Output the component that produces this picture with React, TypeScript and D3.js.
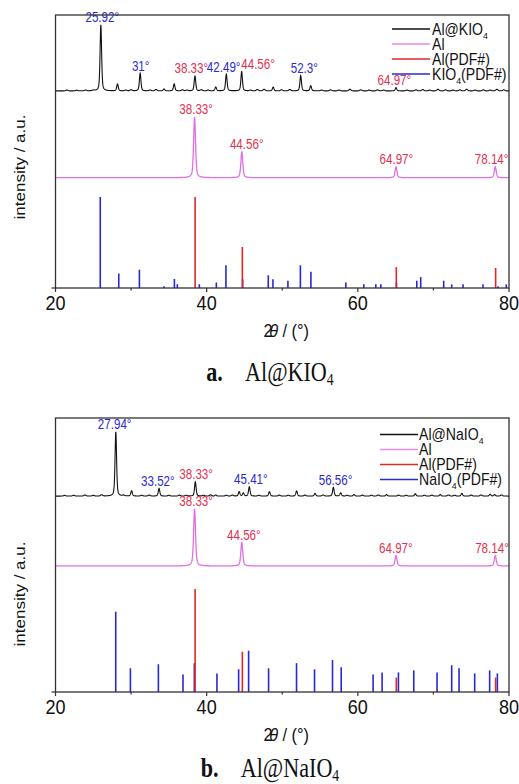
import React from "react";
import * as d3 from "d3";

// ---------------- data ----------------
const xDomain: [number, number] = [20, 80];
const xTicks = [20, 40, 60, 80];
const xMinorTicks = [30, 50, 70];

// Panel a — Al@KIO4 measured pattern: [2θ, height (a.u.)]
const kioSamplePeaks: [number, number][] = [
  [26.0, 24.2], [28.2, 2.5], [31.2, 6.5], [34.35, 0.7], [35.7, 2.6], [38.45, 5.5],
  [41.2, 1.4], [42.6, 6.1], [44.63, 7.1], [48.8, 1.4], [52.44, 5.6], [53.77, 1.9], [65.05, 1.2],
];
const kioSampleRipple: [number, number][] = [
  [21.5, 0.3], [22.8, 0.25], [24.0, 0.3], [25.0, 0.2], [29.3, 0.3], [30.0, 0.4], [32.5, 0.3],
  [33.3, 0.5], [36.8, 0.4], [37.4, 0.3], [39.3, 0.4], [40.2, 0.3], [45.8, 0.3], [46.7, 0.5],
  [47.6, 0.6], [49.9, 0.4], [51.0, 0.5], [55.2, 0.3], [56.4, 0.4], [57.5, 0.3], [58.96, 0.6],
  [60.4, 0.4], [61.5, 0.3], [62.6, 0.4], [63.4, 0.3], [66.5, 0.3], [67.7, 0.4], [68.6, 0.5],
  [69.5, 0.3], [70.6, 0.6], [71.6, 0.4], [72.6, 0.3], [73.5, 0.4], [74.4, 0.6], [75.5, 0.3],
  [76.6, 0.4], [77.5, 0.3], [78.4, 0.6], [79.3, 0.4],
];
const alPeaksA: [number, number][] = [[38.4, 22.3], [44.65, 9.5], [65.05, 4.0], [78.18, 4.0]];
// reference sticks: [2θ, relative intensity %]
const kioRef: [number, number][] = [
  [25.92, 100], [28.37, 16], [31.1, 20], [34.36, 2], [35.73, 10], [36.12, 4], [39.03, 4],
  [41.28, 6], [42.55, 25], [44.76, 9.5], [48.15, 14], [48.77, 9.5], [50.75, 8], [52.4, 25],
  [53.79, 18], [58.41, 6], [60.79, 4], [62.38, 4], [63.04, 4], [65.11, 6], [67.8, 8],
  [68.32, 12], [71.36, 8], [72.42, 4], [73.92, 4], [76.56, 4], [78.54, 2], [79.64, 4],
];
const alRefA: [number, number][] = [[38.47, 100], [44.72, 45], [65.09, 23], [78.23, 22]];

// Panel b — Al@NaIO4
const naioSamplePeaks: [number, number][] = [
  [27.98, 23.5], [30.07, 1.9], [33.7, 2.8], [38.5, 5.2], [41.2, 0.4], [44.3, 1.6], [44.85, 1.1],
  [45.64, 3.4], [48.3, 1.6], [51.9, 1.9], [54.34, 1.0], [56.76, 3.2], [57.73, 1.2], [59.5, 0.55],
  [63.8, 0.55], [67.6, 0.85], [70.9, 0.55], [73.76, 1.0], [77.5, 0.7], [78.1, 0.55],
];
const naioSampleRipple: [number, number][] = [
  [21.2, 0.25], [22.4, 0.3], [23.9, 0.4], [25.0, 0.25], [26.1, 0.45], [29.0, 0.3], [31.4, 0.3],
  [32.4, 0.35], [35.0, 0.3], [36.4, 0.35], [37.3, 0.3], [39.6, 0.3], [40.5, 0.45], [42.6, 0.3],
  [43.4, 0.35], [46.9, 0.3], [49.6, 0.35], [50.8, 0.3], [53.0, 0.35], [55.4, 0.4], [58.6, 0.3],
  [60.6, 0.35], [61.8, 0.3], [62.7, 0.4], [65.4, 0.35], [66.4, 0.3], [68.8, 0.3], [69.8, 0.35],
  [72.0, 0.4], [72.8, 0.3], [75.0, 0.35], [76.3, 0.4], [79.0, 0.4],
];
const alPeaksB: [number, number][] = [[38.4, 20.8], [44.65, 8.65], [65.05, 3.76], [78.18, 3.76]];
const naioRef: [number, number][] = [
  [27.97, 78], [29.91, 23], [33.61, 27], [36.87, 17], [38.37, 28], [41.36, 18], [44.23, 22],
  [45.55, 40], [48.19, 23], [51.89, 28], [54.27, 22], [56.65, 31], [57.8, 24], [62.02, 17],
  [63.21, 19], [65.37, 19], [67.4, 21], [70.48, 19], [72.42, 26], [73.39, 23], [75.46, 18],
  [77.44, 21], [78.46, 18],
];
const alRefB: [number, number][] = [[38.47, 100], [44.72, 39], [65.09, 14], [78.23, 14]];

// peak annotations: text, peak 2θ, label-centre 2θ
type Lbl = { t: string; p: number; cx: number; c: "r" | "b" };
const labelsSampleA: Lbl[] = [
  { t: "25.92°", p: 26.0, cx: 26.19, c: "b" },
  { t: "31°", p: 31.2, cx: 31.27, c: "b" },
  { t: "38.33°", p: 38.45, cx: 37.97, c: "r" },
  { t: "42.49°", p: 42.6, cx: 42.25, c: "b" },
  { t: "44.56°", p: 44.63, cx: 46.8, c: "r" },
  { t: "52.3°", p: 52.44, cx: 52.92, c: "b" },
  { t: "64.97°", p: 65.05, cx: 64.83, c: "r" },
];
const labelsAlA: Lbl[] = [
  { t: "38.33°", p: 38.4, cx: 38.6, c: "r" },
  { t: "44.56°", p: 44.65, cx: 45.3, c: "r" },
  { t: "64.97°", p: 65.05, cx: 65.1, c: "r" },
  { t: "78.14°", p: 78.18, cx: 77.7, c: "r" },
];
const labelsSampleB: Lbl[] = [
  { t: "27.94°", p: 27.98, cx: 27.83, c: "b" },
  { t: "33.52°", p: 33.7, cx: 33.54, c: "b" },
  { t: "38.33°", p: 38.5, cx: 38.6, c: "r" },
  { t: "45.41°", p: 45.64, cx: 45.85, c: "b" },
  { t: "56.56°", p: 56.76, cx: 57.05, c: "b" },
];
const labelsAlB: Lbl[] = [
  { t: "38.33°", p: 38.4, cx: 38.6, c: "r" },
  { t: "44.56°", p: 44.65, cx: 44.92, c: "r" },
  { t: "64.97°", p: 65.05, cx: 65.03, c: "r" },
  { t: "78.14°", p: 78.18, cx: 77.75, c: "r" },
];

const legendA = ["Al@KIO_4", "Al", "Al(PDF#)", "KIO_4(PDF#)"];
const legendB = ["Al@NaIO_4", "Al", "Al(PDF#)", "NaIO_4(PDF#)"];
const captionA = { tag: "a.", name: "Al@KIO_4" };
const captionB = { tag: "b.", name: "Al@NaIO_4" };

// ---------------- styles ----------------
const SANS = "'Liberation Sans', Arial, Helvetica, sans-serif";
const SERIF = "'Liberation Serif', 'Times New Roman', serif";
const C_BLACK = "#111";
const C_AL = "#e070e4";
const C_AL_LEG = "#e98ae9";
const C_RED = "#e02828";
const C_BLUE = "#2828d6";
const C_LBL_RED = "#e3304f";
const C_LBL_BLUE = "#2b2bd2";

const LEFT = 55.5;
const RIGHT = 509;

const grid = d3.range(xDomain[0], xDomain[1] + 1e-6, 0.02);
function pv(x: number, c: number, h: number, w: number, eta: number) {
  const d = (x - c) / (w / 2);
  return h * (eta / (1 + d * d) + (1 - eta) * Math.exp(-Math.LN2 * d * d));
}
function profile(offset: number, sets: { peaks: [number, number][]; w: number; eta: number }[]) {
  return grid.map((x) => {
    let y = offset;
    for (const s of sets) for (const [c, h] of s.peaks) if (Math.abs(x - c) < 6) y += pv(x, c, h, s.w, s.eta);
    return [x, y] as [number, number];
  });
}

function chem(s: string, size: number, shiftFrac = 0.3) {
  const parts = s.split(/_(\d)/);
  const shift = size * shiftFrac;
  const out: React.ReactNode[] = [];
  parts.forEach((p, i) => {
    if (i % 2 === 0) {
      if (p) out.push(<tspan key={i} dy={i > 0 ? -shift : 0}>{p}</tspan>);
    } else {
      out.push(<tspan key={i} fontSize={size * 0.62} dy={shift}>{p}</tspan>);
    }
  });
  return out;
}

type PanelCfg = {
  top: number;
  bottom: number;
  samplePeaks: [number, number][];
  ripple: [number, number][];
  sampleOffset: number;
  alPeaks: [number, number][];
  alOffset: number;
  ref: [number, number][];
  alRef: [number, number][];
  stickMax: number;
  labelsSample: Lbl[];
  labelsAl: Lbl[];
  legend: string[];
  legendX1: number;
  legendX2: number;
  legendTextX: number;
  legendY0: number;
  caption: { tag: string; name: string };
  captionY: number;
  yLabelCy: number;
  id: string;
};

function Panel({ cfg }: { cfg: PanelCfg }) {
  const x = d3.scaleLinear().domain(xDomain).range([LEFT, RIGHT]);
  const y = d3.scaleLinear().domain([0, 100]).range([cfg.bottom, cfg.top]);
  const stick = d3.scaleLinear().domain([0, 100]).range([0, cfg.stickMax]);
  const sample = profile(cfg.sampleOffset, [
    { peaks: cfg.samplePeaks, w: 0.24, eta: 0.45 },
    { peaks: cfg.ripple, w: 0.32, eta: 0.2 },
  ]);
  const al = profile(cfg.alOffset, [{ peaks: cfg.alPeaks, w: 0.3, eta: 0.5 }]);
  const line = d3
    .line<[number, number]>()
    .x((d) => x(d[0]))
    .y((d) => y(d[1]));
  const topAt = (data: [number, number][], p: number) =>
    d3.max(data.filter((d) => Math.abs(d[0] - p) < 0.3), (d) => d[1]) as number;
  const lblColor = (c: "r" | "b") => (c === "r" ? C_LBL_RED : C_LBL_BLUE);
  const legColors = [C_BLACK, C_AL_LEG, C_RED, C_BLUE];
  const axisY = cfg.bottom;

  return (
    <g>
      <defs>
        <clipPath id={"clip" + cfg.id}>
          <rect x={LEFT} y={cfg.top} width={RIGHT - LEFT} height={cfg.bottom - cfg.top} />
        </clipPath>
      </defs>
      <g clipPath={`url(#clip${cfg.id})`}>
        {cfg.ref.map(([p, v], i) => (
          <line key={"b" + i} x1={x(p)} x2={x(p)} y1={y(0)} y2={y(stick(v))} stroke={C_BLUE} strokeWidth={1.6} />
        ))}
        {cfg.alRef.map(([p, v], i) => (
          <line key={"r" + i} x1={x(p)} x2={x(p)} y1={y(0)} y2={y(stick(v))} stroke={C_RED} strokeWidth={1.6} />
        ))}
        <path d={line(al) || ""} fill="none" stroke={C_AL} strokeWidth={1.3} />
        <path d={line(sample) || ""} fill="none" stroke={C_BLACK} strokeWidth={1.1} />
      </g>
      {cfg.labelsSample.map((l, i) => (
        <g key={"ls" + i} transform={`translate(${x(l.cx)},${y(topAt(sample, l.p)) - 2.5}) scale(0.8,1)`}>
          <text textAnchor="middle" fontFamily={SANS} fontSize={14.5} fill={lblColor(l.c)}>{l.t}</text>
        </g>
      ))}
      {cfg.labelsAl.map((l, i) => (
        <g key={"la" + i} transform={`translate(${x(l.cx)},${y(topAt(al, l.p)) - 2.5}) scale(0.8,1)`}>
          <text textAnchor="middle" fontFamily={SANS} fontSize={14.5} fill={lblColor(l.c)}>{l.t}</text>
        </g>
      ))}
      {/* frame */}
      <rect x={LEFT} y={cfg.top} width={RIGHT - LEFT} height={cfg.bottom - cfg.top} fill="none" stroke="#333" strokeWidth={1.3} />
      {xTicks.map((t) => (
        <g key={"t" + t}>
          <line x1={x(t)} x2={x(t)} y1={axisY} y2={axisY + 4} stroke="#333" strokeWidth={1.2} />
          <g transform={`translate(${x(t)},${axisY + 22}) scale(0.86,1)`}>
            <text textAnchor="middle" fontFamily={SANS} fontSize={21} fill="#111">{t}</text>
          </g>
        </g>
      ))}
      {xMinorTicks.map((t) => (
        <line key={"m" + t} x1={x(t)} x2={x(t)} y1={axisY} y2={axisY + 2.5} stroke="#333" strokeWidth={1.2} />
      ))}
      <line x1={LEFT - 4} x2={LEFT} y1={y(0)} y2={y(0)} stroke="#333" strokeWidth={1.2} />
      {/* axis title */}
      <g transform={`translate(${(LEFT + RIGHT) / 2 + 4},${axisY + 49}) scale(0.86,1)`}>
        <text textAnchor="middle" fontFamily={SANS} fontSize={19} fill="#111">
          <tspan>2</tspan>
          <tspan fontStyle="italic" dx={-4}>θ</tspan>
          <tspan>{"\u00a0/\u00a0(°)"}</tspan>
        </text>
      </g>
      {/* y label */}
      <g transform={`translate(25,${cfg.yLabelCy}) scale(0.86,1) rotate(-90)`}>
        <text textAnchor="middle" fontFamily={SANS} fontSize={17} fill="#111">intensity / a.u.</text>
      </g>
      {/* legend */}
      {cfg.legend.map((s, i) => {
        const ly = cfg.legendY0 + i * 15;
        return (
          <g key={"lg" + i}>
            <line x1={cfg.legendX1} x2={cfg.legendX2} y1={ly} y2={ly} stroke={legColors[i]} strokeWidth={1.4} />
            <g transform={`translate(${cfg.legendTextX},${ly + 5.5}) scale(0.88,1)`}>
              <text fontFamily={SANS} fontSize={16} fill="#111">{chem(s, 16, 0.25)}</text>
            </g>
          </g>
        );
      })}
      {/* caption */}
      <g transform={`translate(270,${cfg.captionY}) scale(0.82,1)`}>
        <text textAnchor="middle" fontFamily={SERIF} fontSize={27} fill="#111">
          <tspan fontWeight="bold">{cfg.caption.tag}</tspan>
          <tspan>{"\u00a0\u00a0\u00a0\u00a0"}</tspan>
          {chem(cfg.caption.name, 27, 0.15)}
        </text>
      </g>
    </g>
  );
}

const panelA: PanelCfg = {
  id: "a",
  top: 15,
  bottom: 288,
  samplePeaks: kioSamplePeaks,
  ripple: kioSampleRipple,
  sampleOffset: 72.2,
  alPeaks: alPeaksA,
  alOffset: 40.4,
  ref: kioRef,
  alRef: alRefA,
  stickMax: 33.3,
  labelsSample: labelsSampleA,
  labelsAl: labelsAlA,
  legend: legendA,
  legendX1: 392,
  legendX2: 430,
  legendTextX: 432,
  legendY0: 29,
  caption: captionA,
  captionY: 381,
  yLabelCy: 167,
};

const panelB: PanelCfg = {
  id: "b",
  top: 418,
  bottom: 692,
  samplePeaks: naioSamplePeaks,
  ripple: naioSampleRipple,
  sampleOffset: 71.5,
  alPeaks: alPeaksB,
  alOffset: 46.0,
  ref: naioRef,
  alRef: alRefB,
  stickMax: 37.6,
  labelsSample: labelsSampleB,
  labelsAl: labelsAlB,
  legend: legendB,
  legendX1: 380,
  legendX2: 418,
  legendTextX: 419,
  legendY0: 434.5,
  caption: captionB,
  captionY: 777,
  yLabelCy: 594,
};

export default function App() {
  return (
    <svg width={519} height={784} style={{ position: "absolute", left: 0, top: 0, display: "block" }}>
      <rect width={519} height={784} fill="#fff" />
      <Panel cfg={panelA} />
      <Panel cfg={panelB} />
    </svg>
  );
}
